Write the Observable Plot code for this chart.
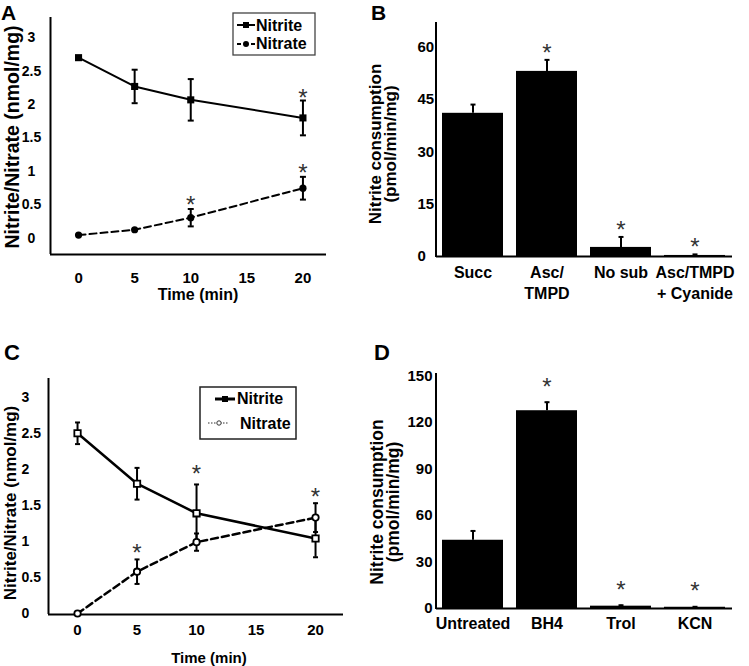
<!DOCTYPE html>
<html><head><meta charset="utf-8">
<script src="https://cdn.jsdelivr.net/npm/d3@7"></script>
<script src="https://cdn.jsdelivr.net/npm/@observablehq/plot@0.6"></script>
<style>
body{margin:0;background:#fff;}
#root{position:relative;width:749px;height:666px;overflow:hidden;background:#fff;font-family:"Liberation Sans",Arial,sans-serif;}
.panel{position:absolute;}
#overlay{position:absolute;left:0;top:0;pointer-events:none;}
</style></head><body><div id="root"></div>
<script>
// ---------- data ----------
const timeMin = [0, 5, 10, 20];
const timeTicks = [0, 5, 10, 15, 20];
const concTicks = [0, 0.5, 1, 1.5, 2, 2.5, 3];

// Panel A
const aNitrite = [2.7, 2.27, 2.07, 1.8];
const aNitriteErr = [0, 0.25, 0.31, 0.26];
const aNitriteSig = [false, false, false, true];
const aNitrate = [0.05, 0.13, 0.31, 0.75];
const aNitrateErr = [0, 0, 0.13, 0.17];
const aNitrateSig = [false, false, true, true];

// Panel B
const bCategories = ["Succ", "Asc/\nTMPD", "No sub", "Asc/TMPD\n+ Cyanide"];
const bValues = [41, 53, 2.6, 0.3];
const bErr = [2.5, 3.3, 3.0, 0.3];
const bSig = [false, true, true, true];
const bTicks = [0, 15, 30, 45, 60];

// Panel C
const cNitrite = [2.5, 1.8, 1.39, 1.04];
const cNitriteErr = [0.15, 0.22, 0.4, 0.26];
const cNitriteSig = [false, false, true, false];
const cNitrate = [0, 0.58, 0.99, 1.33];
const cNitrateErr = [0, 0.17, 0.12, 0.2];
const cNitrateSig = [false, true, false, true];

// Panel D
const dCategories = ["Untreated", "BH4", "Trol", "KCN"];
const dValues = [44, 127.5, 1.5, 0.8];
const dErr = [6, 5.5, 0.6, 0.3];
const dSig = [false, true, true, true];
const dTicks = [0, 30, 60, 90, 120, 150];

// ---------- helpers ----------
const FONT = '"Liberation Sans", Arial, sans-serif';
const fmt = d => String(d);
const capSymbol = {draw(ctx, size) { const r = Math.sqrt(size / Math.PI); ctx.moveTo(-r, 0); ctx.lineTo(r, 0); }};
const rowsT = (t, v, e, s) => t.map((x, i) => ({t: x, v: v[i], err: e[i], sig: s[i]}));
const rowsC = (c, v, e, s) => c.map((x, i) => ({c: x, v: v[i], err: e[i], sig: s[i]}));
const baseStyle = {fontFamily: FONT, fontWeight: "bold", color: "black", background: "transparent", overflow: "visible"};

function lineErr(data, capR) {
  const f = data.filter(d => d.err > 0);
  return [
    Plot.ruleX(f, {x: "t", y1: d => d.v - d.err, y2: d => d.v + d.err, stroke: "black", strokeWidth: 2}),
    Plot.dot(f, {x: "t", y: d => d.v + d.err, symbol: capSymbol, r: capR, stroke: "black", strokeWidth: 2}),
    Plot.dot(f, {x: "t", y: d => d.v - d.err, symbol: capSymbol, r: capR, stroke: "black", strokeWidth: 2})
  ];
}
function stars(data, xk, dy) {
  return Plot.text(data.filter(d => d.sig), {x: xk, y: d => d.v + d.err, text: () => "*", dy, fontSize: 24, fontWeight: "normal", fill: "#333"});
}

const root = document.getElementById("root");
function place(svg, left, top) {
  const wrap = document.createElement("div");
  wrap.className = "panel";
  wrap.style.left = left + "px"; wrap.style.top = top + "px";
  wrap.appendChild(svg);
  root.appendChild(wrap);
}

// ---------- Panel A ----------
{
  const ni = rowsT(timeMin, aNitrite, aNitriteErr, aNitriteSig);
  const na = rowsT(timeMin, aNitrate, aNitrateErr, aNitrateSig);
  const xd = [-2.5, 22.1], yd = [-0.24, 3.3];
  const p = Plot.plot({
    width: 370, height: 320, marginLeft: 50, marginRight: 44, marginTop: 17, marginBottom: 66,
    style: {...baseStyle, fontSize: "14px"},
    x: {domain: xd}, y: {domain: yd},
    marks: [
      Plot.axisX({ticks: timeTicks, tickSize: 0, tickPadding: 18, label: null, fontSize: 15, tickFormat: fmt}),
      Plot.axisY({ticks: concTicks, tickSize: 0, tickPadding: 19, textAnchor: "middle", label: null, fontSize: 14, tickFormat: fmt}),
      Plot.ruleX([xd[0]], {stroke: "black", strokeWidth: 2}),
      Plot.ruleY([yd[0]], {stroke: "black", strokeWidth: 2}),
      ...lineErr(ni, 3),
      ...lineErr(na, 3),
      Plot.line(ni, {x: "t", y: "v", stroke: "black", strokeWidth: 2}),
      Plot.line(na, {x: "t", y: "v", stroke: "black", strokeWidth: 2, strokeDasharray: "7,4"}),
      Plot.dot(ni, {x: "t", y: "v", symbol: "square", r: 4, fill: "black"}),
      Plot.dot(na, {x: "t", y: "v", symbol: "circle", r: 3.6, fill: "black"}),
      stars(ni, "t", -2),
      stars(na, "t", -4)
    ]
  });
  place(p, 0, 0);
}

// ---------- Panel B ----------
{
  const data = rowsC(bCategories, bValues, bErr, bSig);
  const yd = [0, 67];
  const p = Plot.plot({
    width: 379, height: 320, marginLeft: 66, marginRight: 17, marginTop: 22, marginBottom: 64,
    style: {...baseStyle, fontSize: "15px"},
    x: {domain: bCategories, paddingInner: 0.17, paddingOuter: 0.085},
    y: {domain: yd},
    marks: [
      Plot.axisX({tickSize: 0, tickPadding: 6, label: null, fontSize: 16, lineHeight: 1.35}),
      Plot.axisY({ticks: bTicks, tickSize: 0, tickPadding: 19, textAnchor: "start", label: null, fontSize: 15, tickFormat: fmt}),
      Plot.barY(data, {x: "c", y: "v", fill: "black"}),
      Plot.ruleX(data, {x: "c", y1: "v", y2: d => d.v + d.err, stroke: "black", strokeWidth: 2}),
      Plot.dot(data, {x: "c", y: d => d.v + d.err, symbol: capSymbol, r: 2.5, stroke: "black", strokeWidth: 2}),
      Plot.ruleY([yd[0]], {stroke: "black", strokeWidth: 2}),
      stars(data, "c", -7)
    ]
  });
  d3.select(p).append("line").attr("x1", 66).attr("x2", 66).attr("y1", 22).attr("y2", 257).attr("stroke", "black").attr("stroke-width", 2);
  place(p, 370, 0);
}

// ---------- Panel C ----------
{
  const ni = rowsT(timeMin, cNitrite, cNitriteErr, cNitriteSig);
  const na = rowsT(timeMin, cNitrate, cNitrateErr, cNitrateSig);
  const xd = [-2.44, 22.35], yd = [-0.014, 3.26];
  const p = Plot.plot({
    width: 370, height: 346, marginLeft: 48, marginRight: 27, marginTop: 58, marginBottom: 52,
    style: {...baseStyle, fontSize: "14px"},
    x: {domain: xd}, y: {domain: yd},
    marks: [
      Plot.axisX({ticks: timeTicks, tickSize: 0, tickPadding: 10, label: null, fontSize: 15, tickFormat: fmt}),
      Plot.axisY({ticks: concTicks, tickSize: 0, tickPadding: 27, textAnchor: "start", label: null, fontSize: 14, tickFormat: fmt}),
      Plot.ruleX([xd[0]], {stroke: "black", strokeWidth: 2}),
      Plot.ruleY([yd[0]], {stroke: "black", strokeWidth: 2}),
      ...lineErr(ni, 2.5),
      ...lineErr(na, 2.5),
      Plot.line(ni, {x: "t", y: "v", stroke: "black", strokeWidth: 2.5}),
      Plot.line(na, {x: "t", y: "v", stroke: "black", strokeWidth: 2.5, strokeDasharray: "7,4"}),
      Plot.dot(ni, {x: "t", y: "v", symbol: "square", r: 3.6, fill: "white", stroke: "black", strokeWidth: 1.8}),
      Plot.dot(na, {x: "t", y: "v", symbol: "circle", r: 3.2, fill: "white", stroke: "black", strokeWidth: 1.8}),
      stars(ni, "t", -10),
      stars(na, "t", -6)
    ]
  });
  place(p, 0, 320);
}

// ---------- Panel D ----------
{
  const data = rowsC(dCategories, dValues, dErr, dSig);
  const yd = [0, 151.5];
  const p = Plot.plot({
    width: 379, height: 346, marginLeft: 66, marginRight: 17, marginTop: 53, marginBottom: 58,
    style: {...baseStyle, fontSize: "15px"},
    x: {domain: dCategories, paddingInner: 0.17, paddingOuter: 0.085},
    y: {domain: yd},
    marks: [
      Plot.axisX({tickSize: 0, tickPadding: 9, label: null, fontSize: 16}),
      Plot.axisY({ticks: dTicks, tickSize: 0, tickPadding: 4, label: null, fontSize: 15, tickFormat: fmt}),
      Plot.barY(data, {x: "c", y: "v", fill: "black"}),
      Plot.ruleX(data, {x: "c", y1: "v", y2: d => d.v + d.err, stroke: "black", strokeWidth: 2}),
      Plot.dot(data, {x: "c", y: d => d.v + d.err, symbol: capSymbol, r: 2.5, stroke: "black", strokeWidth: 2}),
      Plot.ruleY([yd[0]], {stroke: "black", strokeWidth: 2}),
      stars(data, "c", -15)
    ]
  });
  d3.select(p).append("line").attr("x1", 66).attr("x2", 66).attr("y1", 53).attr("y2", 289).attr("stroke", "black").attr("stroke-width", 2);
  place(p, 370, 320);
}

// ---------- overlay: panel letters, axis titles, legends ----------
{
  const svg = d3.select(root).append("svg").attr("id", "overlay").attr("width", 749).attr("height", 666)
    .style("font-family", FONT).style("font-weight", "bold");
  const txt = (x, y, s, size, opts = {}) => {
    const t = svg.append("text").attr("x", x).attr("y", y).attr("font-size", size).text(s)
      .attr("text-anchor", opts.anchor || "start").attr("dominant-baseline", opts.baseline || "alphabetic");
    if (opts.rotate) t.attr("transform", `rotate(-90 ${x} ${y})`);
    return t;
  };
  // panel letters
  txt(1, 20, "A", 21); txt(371, 20, "B", 21); txt(4, 360, "C", 22); txt(374, 360, "D", 22);
  // axis titles
  txt(198, 294, "Time (min)", 16, {anchor: "middle", baseline: "central"});
  txt(209, 657, "Time (min)", 15, {anchor: "middle", baseline: "central"});
  txt(12, 137, "Nitrite/Nitrate (nmol/mg)", 19.5, {anchor: "middle", baseline: "central", rotate: true});
  txt(10, 503, "Nitrite/Nitrate (nmol/mg)", 17, {anchor: "middle", baseline: "central", rotate: true});
  txt(375, 144, "Nitrite consumption", 17, {anchor: "middle", baseline: "central", rotate: true});
  txt(390, 144, "(pmol/min/mg)", 17, {anchor: "middle", baseline: "central", rotate: true});
  txt(377, 502, "Nitrite consumption", 17.5, {anchor: "middle", baseline: "central", rotate: true});
  txt(393, 502, "(pmol/min/mg)", 17.5, {anchor: "middle", baseline: "central", rotate: true});

  // legend A
  svg.append("rect").attr("x", 233).attr("y", 13).attr("width", 82).attr("height", 42).attr("fill", "white").attr("stroke", "#444").attr("stroke-width", 1.3);
  svg.append("line").attr("x1", 237).attr("x2", 255).attr("y1", 25).attr("y2", 25).attr("stroke", "black").attr("stroke-width", 2);
  svg.append("rect").attr("x", 243).attr("y", 22).attr("width", 6).attr("height", 6).attr("fill", "black");
  txt(256, 25, "Nitrite", 16, {baseline: "central"});
  svg.append("line").attr("x1", 237).attr("x2", 255).attr("y1", 44).attr("y2", 44).attr("stroke", "black").attr("stroke-width", 2).attr("stroke-dasharray", "4,3");
  svg.append("circle").attr("cx", 246).attr("cy", 44).attr("r", 3).attr("fill", "black");
  txt(256, 43, "Nitrate", 16, {baseline: "central"});

  // legend C
  svg.append("rect").attr("x", 200).attr("y", 387).attr("width", 96).attr("height", 52).attr("fill", "white").attr("stroke", "#222").attr("stroke-width", 1.5);
  svg.append("line").attr("x1", 215).attr("x2", 235).attr("y1", 399).attr("y2", 399).attr("stroke", "black").attr("stroke-width", 3);
  svg.append("rect").attr("x", 222).attr("y", 396).attr("width", 6).attr("height", 6).attr("fill", "black");
  txt(237, 398, "Nitrite", 16, {baseline: "central"});
  svg.append("line").attr("x1", 208).attr("x2", 228).attr("y1", 423).attr("y2", 423).attr("stroke", "#333").attr("stroke-width", 1.2).attr("stroke-dasharray", "1.5,1.5");
  svg.append("circle").attr("cx", 219).attr("cy", 423).attr("r", 2.2).attr("fill", "white").attr("stroke", "#333").attr("stroke-width", 1);
  txt(240, 423, "Nitrate", 16, {baseline: "central"});
}
</script>
</body></html>
